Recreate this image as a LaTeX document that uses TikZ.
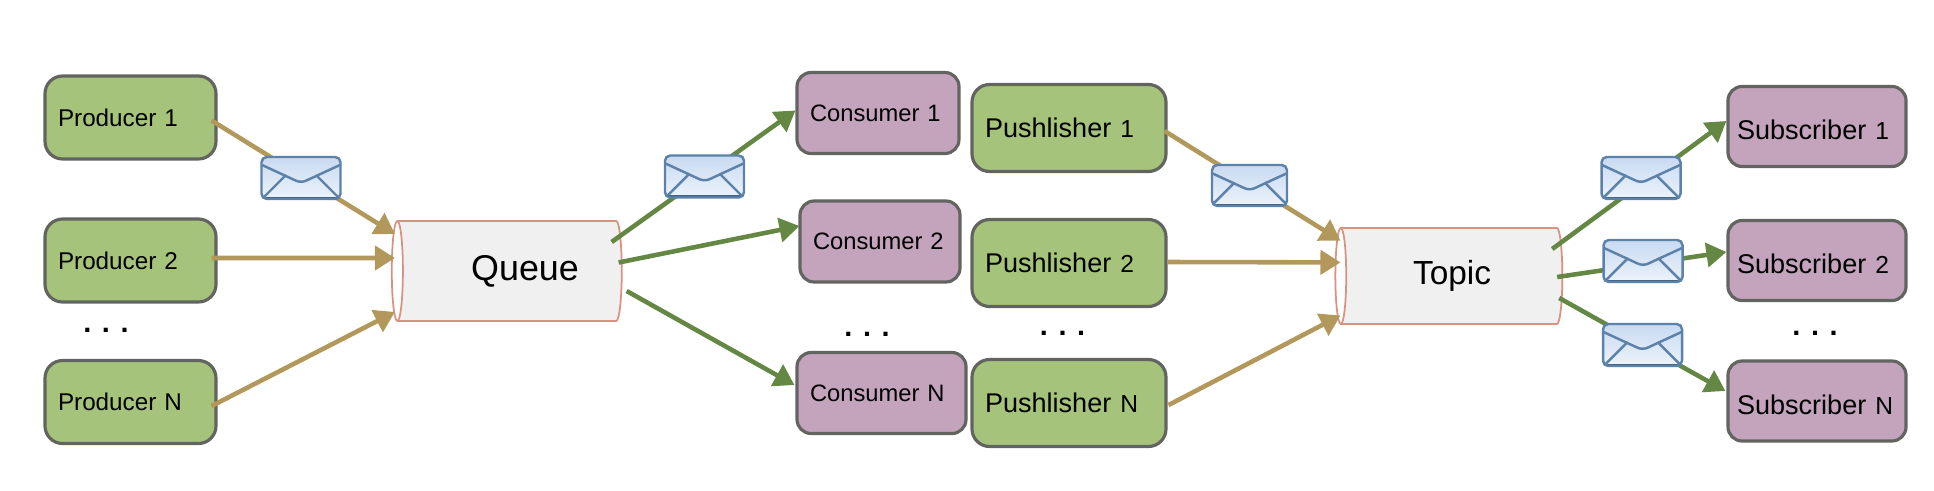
\documentclass[tikz,border=0pt]{standalone}
\usepackage{fontspec}
\setmainfont{Liberation Sans}
\definecolor{qgreen}{RGB}{165,195,122}
\definecolor{qpurple}{RGB}{196,163,188}
\definecolor{qborder}{RGB}{98,100,96}
\definecolor{qtan}{RGB}{178,152,90}
\definecolor{qarrow}{RGB}{100,136,68}
\definecolor{qpipe}{RGB}{240,240,240}
\definecolor{qpipeline}{RGB}{216,146,130}
\definecolor{qmail}{RGB}{92,130,170}
\definecolor{qmaildark}{RGB}{66,98,135}
\definecolor{qmailtop}{RGB}{200,218,241}
\definecolor{qmailbot}{RGB}{236,243,251}
\usetikzlibrary{arrows.meta,positioning,shapes.geometric,calc}
\tikzset{
  greenbox/.style={draw=qborder,fill=qgreen,line width=0.9pt,rounded corners=5pt,inner xsep=0.13cm,inner ysep=0pt,align=left},
  purplebox/.style={draw=qborder,fill=qpurple,line width=0.9pt,rounded corners=4pt,inner xsep=0.13cm,inner ysep=0pt,align=left},
  prodbox/.style={greenbox,text width=1.45cm,minimum height=0.83cm,font=\fontsize{6.9}{8}\selectfont},
  pubbox/.style={greenbox,text width=1.68cm,minimum height=0.87cm,font=\fontsize{7.7}{9}\selectfont},
  consbox/.style={purplebox,text width=#1,minimum height=0.81cm,font=\fontsize{6.75}{8}\selectfont},
  subbox/.style={purplebox,text width=1.60cm,minimum height=0.80cm,inner xsep=0.09cm,text height=0.26cm,text depth=0pt,font=\fontsize{7.7}{9}\selectfont},
  pipe/.style={cylinder,shape border rotate=180,aspect=0.35,draw=qpipeline,line width=0.5pt,cylinder uses custom fill,cylinder body fill=qpipe,cylinder end fill=white,inner sep=0pt},
  dots/.style={inner sep=0pt,font=\fontsize{8.2}{9}\selectfont\bfseries},
  sendline/.style={-{Triangle[length=0.20cm,width=0.24cm]},qtan,line width=1.3pt},
  recvline/.style={-{Triangle[length=0.20cm,width=0.24cm]},qarrow,line width=1.3pt},
  msgbox/.style={draw=qmail,line width=0.7pt,rounded corners=1.5pt,top color=qmailtop,bottom color=qmailbot,inner sep=0pt,minimum width=0.79cm,minimum height=0.42cm,
    path picture={
      \draw[qmail,line width=0.7pt] ([shift={(-0.39,0.13)}]path picture bounding box.center) -- ([shift={(0,-0.05)}]path picture bounding box.center) -- ([shift={(0.39,0.13)}]path picture bounding box.center);
      \draw[qmail,line width=0.7pt] ([shift={(-0.37,-0.19)}]path picture bounding box.center) -- ([shift={(-0.15,0.03)}]path picture bounding box.center);
      \draw[qmail,line width=0.7pt] ([shift={(0.37,-0.19)}]path picture bounding box.center) -- ([shift={(0.15,0.03)}]path picture bounding box.center);
      \draw[qmaildark,line width=1.2pt] (path picture bounding box.south west) -- (path picture bounding box.south east);
    }},
}
\newcommand{\smalldigit}[1]{{\fontsize{7}{8}\selectfont #1}}
\begin{document}
\begin{tikzpicture}
  \useasboundingbox (0,0) rectangle (19.34,4.90);

  % Producers
  \node[prodbox] (prod1) at (1.305, 3.725) {Producer 1};
  \node[prodbox] (prod2) at (1.305, 2.295) {Producer 2};
  \node[prodbox] (prodN) at (1.305, 0.880) {Producer N};
  \node[dots] (proddots) at (1.06, 1.60) {. . .};

  % Queue
  \node[pipe,minimum height=2.30cm,minimum width=1.00cm,font=\fontsize{10.2}{12}\selectfont] (queue) at (5.10, 2.19) {\hspace{0.30cm}Queue};

  % Consumers
  \node[consbox=1.36cm] (cons1) at (8.78, 3.77) {Consumer 1};
  \node[consbox=1.34cm] (cons2) at (8.80, 2.485) {Consumer 2};
  \node[consbox=1.43cm] (consN) at (8.815, 0.97) {Consumer N};
  \node[dots] (consdots) at (8.67, 1.56) {. . .};

  % Publishers
  \node[pubbox] (pub1) at (10.69, 3.62) {Pushlisher \smalldigit{1}};
  \node[pubbox] (pub2) at (10.69, 2.27) {Pushlisher \smalldigit{2}};
  \node[pubbox] (pubN) at (10.69, 0.87) {Pushlisher \smalldigit{N}};
  \node[dots] (pubdots) at (10.625, 1.57) {. . .};

  % Topic
  \node[pipe,minimum height=2.27cm,minimum width=0.96cm,font=\fontsize{9.5}{11}\selectfont] (topic) at (14.52, 2.14) {Topic};

  % Subscribers
  \node[subbox] (sub1) at (18.17, 3.635) {Subscriber \smalldigit{1}};
  \node[subbox] (sub2) at (18.17, 2.295) {Subscriber \smalldigit{2}};
  \node[subbox] (subN) at (18.17, 0.89) {Subscriber \smalldigit{N}};
  \node[dots] (subdots) at (18.15, 1.57) {. . .};

  % Producers to queue
  \draw[sendline] ([shift={(-0.06,-0.03)}]prod1.east) -- ([shift={(0.04,0.37)}]queue.west);
  \draw[sendline] ([shift={(-0.06,0.025)}]prod2.east) -- ([shift={(0.04,0.13)}]queue.west);
  \draw[sendline] ([shift={(-0.06,-0.04)}]prodN.east) -- ([shift={(0.04,-0.41)}]queue.west);

  % Queue to consumers
  \draw[recvline] ([shift={(-0.11,0.29)}]queue.east) -- ([shift={(0,0.025)}]cons1.west);
  \draw[recvline] ([shift={(-0.04,0.085)}]queue.east) -- ([shift={(0.01,0.155)}]cons2.west);
  \draw[recvline] ([shift={(0.04,-0.20)}]queue.east) -- ([shift={(-0.01,0.08)}]consN.west);

  % Publishers to topic
  \draw[sendline] ([shift={(-0.03,-0.03)}]pub1.east) -- ([shift={(0.06,0.354)}]topic.west);
  \draw[sendline] ([shift={(0,0.01)}]pub2.east) -- ([shift={(0.06,0.136)}]topic.west);
  \draw[sendline] ([shift={(0.01,-0.02)}]pubN.east) -- ([shift={(0.06,-0.395)}]topic.west);

  % Topic to subscribers
  \draw[recvline] ([shift={(-0.11,0.27)}]topic.east) -- ([shift={(0,0.055)}]sub1.west);
  \draw[recvline] ([shift={(-0.06,-0.01)}]topic.east) -- ([shift={(0,0.085)}]sub2.west);
  \draw[recvline] ([shift={(-0.04,-0.22)}]topic.east) -- ([shift={(-0.01,0.10)}]subN.west);

  % Messages on top of the lines
  \node[msgbox] (msgA) at (3.01, 3.12) {};
  \node[msgbox] (msgB) at (7.045, 3.135) {};
  \node[msgbox,minimum width=0.75cm,minimum height=0.41cm] (msgC) at (12.495, 3.045) {};
  \node[msgbox] (msgD) at (16.41, 3.12) {};
  \node[msgbox] (msgE) at (16.43, 2.29) {};
  \node[msgbox] (msgF) at (16.425, 1.45) {};
\end{tikzpicture}
\end{document}
